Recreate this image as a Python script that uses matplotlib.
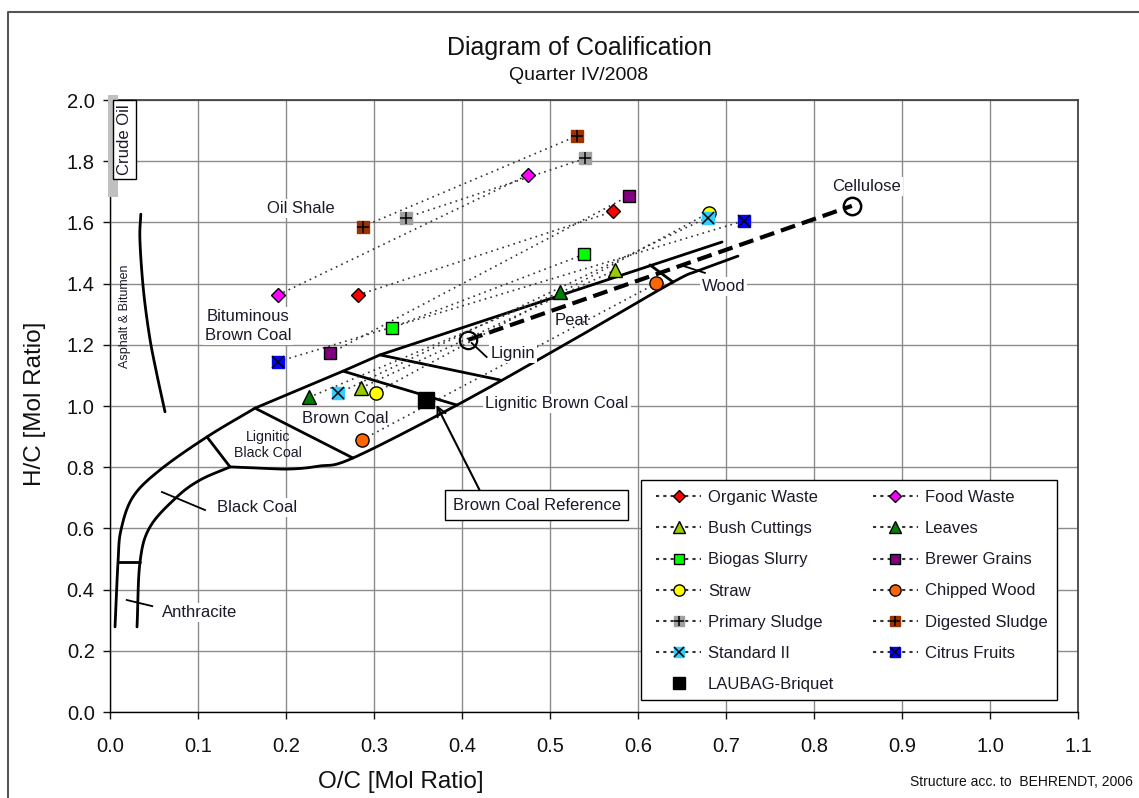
import matplotlib
matplotlib.use("Agg")
import matplotlib.pyplot as plt
from matplotlib.lines import Line2D
from matplotlib.patches import Rectangle
from matplotlib.legend_handler import HandlerTuple
import numpy as np

plt.rcParams['font.family'] = ['Liberation Sans', 'DejaVu Sans']

# ---------------- data (O/C, H/C mol ratios) ----------------
organic_oc = [0.282, 0.572];  organic_hc = [1.363, 1.636]
food_oc = [0.191, 0.475];     food_hc = [1.363, 1.755]
bush_oc = [0.285, 0.574];     bush_hc = [1.059, 1.444]
leaves_oc = [0.226, 0.511];   leaves_hc = [1.028, 1.371]
biogas_oc = [0.320, 0.539];   biogas_hc = [1.256, 1.496]
brewer_oc = [0.250, 0.590];   brewer_hc = [1.172, 1.687]
straw_oc = [0.302, 0.681];    straw_hc = [1.044, 1.632]
chipped_oc = [0.286, 0.621];  chipped_hc = [0.889, 1.401]
primary_oc = [0.336, 0.540];  primary_hc = [1.615, 1.809]
digested_oc = [0.287, 0.531]; digested_hc = [1.586, 1.883]
standard_oc = [0.259, 0.679]; standard_hc = [1.041, 1.616]
citrus_oc = [0.191, 0.720];   citrus_hc = [1.145, 1.605]
laubag_oc = [0.359];          laubag_hc = [1.020]

lignin_pt = [0.407, 1.216]
cellulose_pt = [0.843, 1.654]

# ---------------- coalification band outlines (Behrendt) ----------------
upper_straight_oc = [0.6955, 0.3068, 0.2648, 0.1648]
upper_straight_hc = [1.536, 1.167, 1.114, 0.993]
outer_curve_oc = [0.1648, 0.1102, 0.0568, 0.0261, 0.0125, 0.0091, 0.0057]
outer_curve_hc = [0.993, 0.899, 0.791, 0.703, 0.595, 0.490, 0.278]
lower_oc = [0.7136, 0.6705, 0.6398, 0.5261, 0.3943, 0.2761, 0.2386, 0.2045, 0.1705, 0.1364]
lower_hc = [1.490, 1.444, 1.405, 1.216, 1.003, 0.830, 0.804, 0.794, 0.797, 0.801]
inner_oc = [0.1364, 0.1023, 0.0761, 0.0455, 0.0341, 0.0307]
inner_hc = [0.801, 0.758, 0.703, 0.605, 0.490, 0.278]
dividers = [
    ([0.1102, 0.1364], [0.899, 0.801]),
    ([0.1648, 0.2761], [0.993, 0.830]),
    ([0.2648, 0.3943], [1.114, 1.003]),
    ([0.3068, 0.4432], [1.167, 1.085]),
    ([0.6136, 0.6398], [1.461, 1.405]),
    ([0.0091, 0.0341], [0.490, 0.490]),
]
asphalt_oc = [0.035, 0.034, 0.038, 0.045, 0.053, 0.0625]
asphalt_hc = [1.627, 1.542, 1.379, 1.226, 1.107, 0.981]

xticks = [round(0.1 * i, 1) for i in range(12)]
yticks = [round(0.2 * i, 1) for i in range(11)]


def smooth(xs, ys, n=16):
    """Catmull-Rom curve through the given outline points."""
    p = np.column_stack([xs, ys]).astype(float)
    p = np.vstack([2 * p[0] - p[1], p, 2 * p[-1] - p[-2]])
    out = []
    for i in range(1, len(p) - 2):
        p0, p1, p2, p3 = p[i - 1], p[i], p[i + 1], p[i + 2]
        for t in np.linspace(0, 1, n, endpoint=False):
            t2, t3 = t * t, t * t * t
            out.append(0.5 * ((2 * p1) + (-p0 + p2) * t + (2 * p0 - 5 * p1 + 4 * p2 - p3) * t2
                              + (-p0 + 3 * p1 - 3 * p2 + p3) * t3))
    out.append(p[-2])
    out = np.array(out)
    return out[:, 0], out[:, 1]


# ---------------- figure ----------------
W, H = 1139, 798
fig = plt.figure(figsize=(W / 100, H / 100), dpi=100)
ax = fig.add_axes([110 / W, 86 / H, 968 / W, 612 / H])
ax.set_xlim(0, 1.1)
ax.set_ylim(0, 2.0)
ax.set_xticks(xticks)
ax.set_yticks(yticks)
ax.set_xticklabels([f"{v:.1f}" for v in xticks])
ax.set_yticklabels([f"{v:.1f}" for v in yticks])
ax.tick_params(axis='x', length=5, width=1, pad=13, labelsize=14.5, colors='#111111')
ax.tick_params(axis='y', length=5, width=1, pad=6, labelsize=14.5, colors='#111111')
ax.grid(True, color='#8c8c8c', lw=1)
ax.set_axisbelow(True)
for s in ['left', 'bottom']:
    ax.spines[s].set_color('black'); ax.spines[s].set_linewidth(1)
for s in ['top', 'right']:
    ax.spines[s].set_color('#444444'); ax.spines[s].set_linewidth(1.3)

# band lines
band_kw = dict(color='black', lw=2, zorder=2, solid_capstyle='round', solid_joinstyle='round')
ax.plot(upper_straight_oc, upper_straight_hc, **band_kw)
ax.plot(*smooth(outer_curve_oc, outer_curve_hc), **band_kw)
ax.plot(*smooth(lower_oc, lower_hc), **band_kw)
ax.plot(*smooth(inner_oc, inner_hc), **band_kw)
for dx, dy in dividers:
    ax.plot(dx, dy, **band_kw)
ax.plot(*smooth(asphalt_oc, asphalt_hc), **band_kw)

# lignin-cellulose dashed line
ax.plot([lignin_pt[0], cellulose_pt[0]], [lignin_pt[1], cellulose_pt[1]], color='black', lw=3,
        ls=(0, (3.6, 1.7)), zorder=2)
ax.plot([lignin_pt[0]], [lignin_pt[1]], 'o', mfc='none', mec='black', ms=12.5, mew=1.6, zorder=3)
ax.plot([cellulose_pt[0]], [cellulose_pt[1]], 'o', mfc='none', mec='black', ms=12.5, mew=1.8, zorder=3)

# leader lines
leader_kw = dict(color='black', lw=1.3, zorder=2)
ax.plot([0.651, 0.676], [1.458, 1.435], **leader_kw)   # Wood
ax.plot([0.411, 0.428], [1.206, 1.160], **leader_kw)   # Lignin
ax.plot([0.059, 0.108], [0.719, 0.660], **leader_kw)   # Black coal
ax.plot([0.019, 0.048], [0.366, 0.346], **leader_kw)   # Anthracite

# series
dot_ls = (0, (1, 2.5))
line_col = '#333333'
series = [
    ("Organic Waste", organic_oc, organic_hc, 'D', '#FF0000', 7, None),
    ("Food Waste", food_oc, food_hc, 'D', '#FF00FF', 7, None),
    ("Bush Cuttings", bush_oc, bush_hc, '^', '#99CC00', 9.5, None),
    ("Leaves", leaves_oc, leaves_hc, '^', '#008000', 9.5, None),
    ("Biogas Slurry", biogas_oc, biogas_hc, 's', '#00FF00', 9, None),
    ("Brewer Grains", brewer_oc, brewer_hc, 's', '#800080', 9, None),
    ("Straw", straw_oc, straw_hc, 'o', '#FFFF00', 9.5, None),
    ("Chipped Wood", chipped_oc, chipped_hc, 'o', '#FF6600', 9.5, None),
    ("Primary Sludge", primary_oc, primary_hc, 's', '#A0A0A0', 9, '+'),
    ("Digested Sludge", digested_oc, digested_hc, 's', '#993300', 9, '+'),
    ("Standard II", standard_oc, standard_hc, 's', '#33CCFF', 9, 'x'),
    ("Citrus Fruits", citrus_oc, citrus_hc, 's', '#0000FF', 9, 'x'),
]
handles = {}
for name, xs, ys, mk, col, ms, over in series:
    ax.plot(xs, ys, color=line_col, lw=1.2, ls=dot_ls, zorder=3)
    mec = 'black' if over is None else col
    ax.plot(xs, ys, ls='none', marker=mk, mfc=col, mec=mec, mew=1, ms=ms, zorder=4)
    h = Line2D([], [], color=line_col, lw=1.5, ls=(0, (1.5, 2)), marker=mk, mfc=col, mec=mec, mew=1,
               ms=ms * 0.85)
    if over is not None:
        ax.plot(xs, ys, ls='none', marker=over, color='black', mew=1.1, ms=ms * 0.95, zorder=5)
        h2 = Line2D([], [], ls='none', marker=over, color='black', mew=1.1, ms=ms * 0.8)
        handles[name] = (h, h2)
    else:
        handles[name] = h
ax.plot(laubag_oc, laubag_hc, ls='none', marker='s', color='black', ms=11.5, zorder=4)
handles["LAUBAG-Briquet"] = Line2D([], [], ls='none', marker='s', color='black', ms=8.5)

order = ["Organic Waste", "Bush Cuttings", "Biogas Slurry", "Straw", "Primary Sludge", "Standard II",
         "LAUBAG-Briquet", "Food Waste", "Leaves", "Brewer Grains", "Chipped Wood", "Digested Sludge",
         "Citrus Fruits"]
# legend frame drawn explicitly
ax.add_patch(Rectangle(((641 - 110) / 968, (712 - 700) / 612), 416 / 968, 220 / 612,
                       transform=ax.transAxes, facecolor='white', edgecolor='black', lw=1, zorder=9))
leg = ax.legend([handles[n] for n in order], order, ncol=2, loc='upper left',
                bbox_to_anchor=((656 - 110) / 968, (712 - 490) / 612), borderaxespad=0, frameon=False,
                fontsize=12, labelspacing=0.97, handlelength=2.7, handletextpad=0.42,
                columnspacing=2.3, borderpad=0,
                handler_map={tuple: HandlerTuple(ndivide=1)})
leg.set_zorder(10)
for t in leg.get_texts():
    t.set_color('#1a1a2a')

# annotations
txt_col = '#1a1a2a'
wb = dict(facecolor='white', edgecolor='none', pad=1.5)


def lab(x, y, s, fs=12, **kw):
    ax.text(x, y, s, fontsize=fs, color=txt_col, ha='center', va='center', zorder=6, **kw)


lab(0.217, 1.647, "Oil Shale", bbox=wb)
lab(0.157, 1.261, "Bituminous\nBrown Coal", bbox=wb, linespacing=1.3)
lab(0.267, 0.958, "Brown Coal")
lab(0.180, 0.873, "Lignitic\nBlack Coal", fs=10.2, linespacing=1.2)
lab(0.167, 0.667, "Black Coal", bbox=wb)
lab(0.102, 0.324, "Anthracite", bbox=wb)
lab(0.525, 1.281, "Peat")
lab(0.697, 1.392, "Wood", bbox=wb)
lab(0.508, 1.007, "Lignitic Brown Coal", bbox=wb)
lab(0.458, 1.173, "Lignin", bbox=wb)
lab(0.860, 1.716, "Cellulose", bbox=wb)
lab(0.017, 1.294, "Asphalt & Bitumen", fs=9, rotation=90)

# Crude oil marker bar and box
ax.add_patch(Rectangle((-0.0023, 1.683), 0.0113, 0.333, facecolor='#c0c0c0', edgecolor='none',
                       clip_on=False, zorder=5))
ax.text(0.0165, 1.871, "Crude Oil", fontsize=12, color=txt_col, rotation=90, ha='center', va='center',
        zorder=7, clip_on=False,
        bbox=dict(boxstyle='square,pad=0.25', facecolor='white', edgecolor='black', lw=1))

# Brown coal reference box with arrow
ax.annotate("", xy=(0.371, 1.003), xytext=(0.420, 0.725),
            arrowprops=dict(arrowstyle='->', color='black', lw=1.5, mutation_scale=16,
                            shrinkA=0, shrinkB=0), zorder=6)
ax.text(0.485, 0.676, "Brown Coal Reference", fontsize=12, color=txt_col, ha='center', va='center',
        zorder=7, bbox=dict(boxstyle='square,pad=0.45', facecolor='white', edgecolor='black', lw=1))

# titles and axis labels
fig.text(579 / W, 1 - 48 / H, "Diagram of Coalification", fontsize=18, ha='center', va='center', color='#111111')
fig.text(579 / W, 1 - 76 / H, "Quarter IV/2008", fontsize=14, ha='center', va='center', color='#111111')
fig.text(401 / W, 1 - 782 / H, "O/C [Mol Ratio]", fontsize=17.5, ha='center', va='center', color='#111111')
fig.text(35 / W, 1 - 404 / H, "H/C [Mol Ratio]", fontsize=17.5, ha='center', va='center', rotation=90,
         color='#111111')
fig.text(1133 / W, 1 - 782 / H, "Structure acc. to  BEHRENDT, 2006", fontsize=10, ha='right', va='center',
         color='#111111')

# outer frame (left + top)
fig.add_artist(Line2D([8 / W, 8 / W, 1.0], [0.0, 1 - 12 / H, 1 - 12 / H], color='#555555', lw=1.5,
                      transform=fig.transFigure))

fig.savefig("out.png", dpi=100)
